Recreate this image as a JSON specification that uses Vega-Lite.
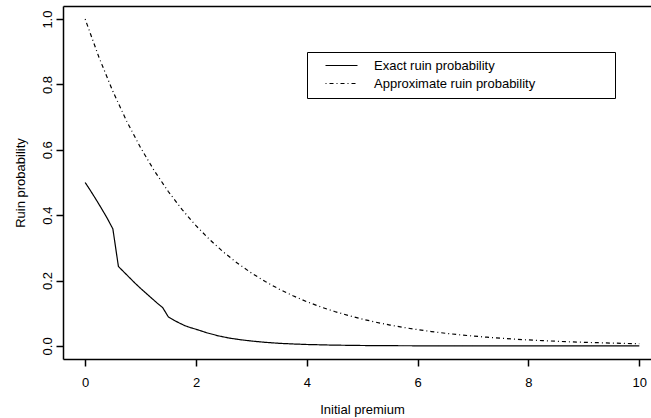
{
  "$schema": "https://vega.github.io/schema/vega-lite/v6.json",
  "width": 588,
  "height": 353,
  "autosize": {"type": "none"},
  "padding": {"left": 63, "top": 6, "right": 0, "bottom": 59},
  "background": "white",
  "config": {
    "font": "Liberation Sans",
    "view": {"stroke": null},
    "axis": {
      "grid": false,
      "domain": true,
      "domainColor": "#000000",
      "domainWidth": 1.5,
      "ticks": true,
      "tickColor": "#000000",
      "tickWidth": 1.5,
      "tickSize": 7,
      "labelColor": "black",
      "titleColor": "black",
      "labelFont": "Liberation Sans",
      "titleFont": "Liberation Sans",
      "labelFontSize": 13,
      "titleFontSize": 13,
      "titleFontWeight": "normal",
      "labelFlush": false,
      "labelOverlap": false
    }
  },
  "data": {
    "values": [
      {"u": 0, "p": 0.5, "s": "Exact ruin probability"},
      {"u": 0.1, "p": 0.474, "s": "Exact ruin probability"},
      {"u": 0.2, "p": 0.447, "s": "Exact ruin probability"},
      {"u": 0.3, "p": 0.419, "s": "Exact ruin probability"},
      {"u": 0.4, "p": 0.39, "s": "Exact ruin probability"},
      {"u": 0.5, "p": 0.358, "s": "Exact ruin probability"},
      {"u": 0.6, "p": 0.243, "s": "Exact ruin probability"},
      {"u": 0.7, "p": 0.226, "s": "Exact ruin probability"},
      {"u": 0.8, "p": 0.209, "s": "Exact ruin probability"},
      {"u": 0.9, "p": 0.192, "s": "Exact ruin probability"},
      {"u": 1.0, "p": 0.176, "s": "Exact ruin probability"},
      {"u": 1.1, "p": 0.161, "s": "Exact ruin probability"},
      {"u": 1.2, "p": 0.146, "s": "Exact ruin probability"},
      {"u": 1.3, "p": 0.131, "s": "Exact ruin probability"},
      {"u": 1.4, "p": 0.117, "s": "Exact ruin probability"},
      {"u": 1.5, "p": 0.089, "s": "Exact ruin probability"},
      {"u": 1.6, "p": 0.079, "s": "Exact ruin probability"},
      {"u": 1.7, "p": 0.07, "s": "Exact ruin probability"},
      {"u": 1.8, "p": 0.062, "s": "Exact ruin probability"},
      {"u": 1.9, "p": 0.056, "s": "Exact ruin probability"},
      {"u": 2.0, "p": 0.051, "s": "Exact ruin probability"},
      {"u": 2.2, "p": 0.04, "s": "Exact ruin probability"},
      {"u": 2.4, "p": 0.031, "s": "Exact ruin probability"},
      {"u": 2.6, "p": 0.024, "s": "Exact ruin probability"},
      {"u": 2.8, "p": 0.019, "s": "Exact ruin probability"},
      {"u": 3.0, "p": 0.015, "s": "Exact ruin probability"},
      {"u": 3.25, "p": 0.011, "s": "Exact ruin probability"},
      {"u": 3.5, "p": 0.008, "s": "Exact ruin probability"},
      {"u": 3.75, "p": 0.006, "s": "Exact ruin probability"},
      {"u": 4.0, "p": 0.0044, "s": "Exact ruin probability"},
      {"u": 4.5, "p": 0.0024, "s": "Exact ruin probability"},
      {"u": 5.0, "p": 0.0013, "s": "Exact ruin probability"},
      {"u": 5.5, "p": 0.0007, "s": "Exact ruin probability"},
      {"u": 6.0, "p": 0.0004, "s": "Exact ruin probability"},
      {"u": 7.0, "p": 0.00012, "s": "Exact ruin probability"},
      {"u": 8.0, "p": 0.00004, "s": "Exact ruin probability"},
      {"u": 9.0, "p": 0.00001, "s": "Exact ruin probability"},
      {"u": 10.0, "p": 0.000003, "s": "Exact ruin probability"},
      {"u": 0, "p": 1.0, "s": "Approximate ruin probability"},
      {"u": 0.25, "p": 0.8825, "s": "Approximate ruin probability"},
      {"u": 0.5, "p": 0.7788, "s": "Approximate ruin probability"},
      {"u": 0.75, "p": 0.6873, "s": "Approximate ruin probability"},
      {"u": 1.0, "p": 0.6065, "s": "Approximate ruin probability"},
      {"u": 1.25, "p": 0.5353, "s": "Approximate ruin probability"},
      {"u": 1.5, "p": 0.4724, "s": "Approximate ruin probability"},
      {"u": 1.75, "p": 0.4169, "s": "Approximate ruin probability"},
      {"u": 2.0, "p": 0.3679, "s": "Approximate ruin probability"},
      {"u": 2.25, "p": 0.3247, "s": "Approximate ruin probability"},
      {"u": 2.5, "p": 0.2865, "s": "Approximate ruin probability"},
      {"u": 2.75, "p": 0.2528, "s": "Approximate ruin probability"},
      {"u": 3.0, "p": 0.2231, "s": "Approximate ruin probability"},
      {"u": 3.25, "p": 0.1969, "s": "Approximate ruin probability"},
      {"u": 3.5, "p": 0.1738, "s": "Approximate ruin probability"},
      {"u": 3.75, "p": 0.1534, "s": "Approximate ruin probability"},
      {"u": 4.0, "p": 0.1353, "s": "Approximate ruin probability"},
      {"u": 4.25, "p": 0.1194, "s": "Approximate ruin probability"},
      {"u": 4.5, "p": 0.1054, "s": "Approximate ruin probability"},
      {"u": 4.75, "p": 0.093, "s": "Approximate ruin probability"},
      {"u": 5.0, "p": 0.0821, "s": "Approximate ruin probability"},
      {"u": 5.25, "p": 0.0724, "s": "Approximate ruin probability"},
      {"u": 5.5, "p": 0.0639, "s": "Approximate ruin probability"},
      {"u": 5.75, "p": 0.0564, "s": "Approximate ruin probability"},
      {"u": 6.0, "p": 0.0498, "s": "Approximate ruin probability"},
      {"u": 6.25, "p": 0.0439, "s": "Approximate ruin probability"},
      {"u": 6.5, "p": 0.0388, "s": "Approximate ruin probability"},
      {"u": 6.75, "p": 0.0342, "s": "Approximate ruin probability"},
      {"u": 7.0, "p": 0.0302, "s": "Approximate ruin probability"},
      {"u": 7.25, "p": 0.0267, "s": "Approximate ruin probability"},
      {"u": 7.5, "p": 0.0235, "s": "Approximate ruin probability"},
      {"u": 7.75, "p": 0.0208, "s": "Approximate ruin probability"},
      {"u": 8.0, "p": 0.0183, "s": "Approximate ruin probability"},
      {"u": 8.25, "p": 0.0162, "s": "Approximate ruin probability"},
      {"u": 8.5, "p": 0.0143, "s": "Approximate ruin probability"},
      {"u": 8.75, "p": 0.0126, "s": "Approximate ruin probability"},
      {"u": 9.0, "p": 0.0111, "s": "Approximate ruin probability"},
      {"u": 9.25, "p": 0.0098, "s": "Approximate ruin probability"},
      {"u": 9.5, "p": 0.0087, "s": "Approximate ruin probability"},
      {"u": 9.75, "p": 0.0076, "s": "Approximate ruin probability"},
      {"u": 10.0, "p": 0.0067, "s": "Approximate ruin probability"}
    ]
  },
  "encoding": {
    "y": {
      "field": "p",
      "type": "quantitative",
      "scale": {"domain": [-0.04, 1.04], "nice": false, "zero": false},
      "axis": {
        "values": [0, 0.2, 0.4, 0.6, 0.8, 1.0],
        "format": ".1f",
        "labelAngle": 270,
        "labelAlign": "center",
        "labelBaseline": "alphabetic",
        "labelPadding": 4.5,
        "title": "Ruin probability",
        "titleAngle": 270,
        "titleAlign": "center",
        "titleBaseline": "alphabetic",
        "titleX": -39,
        "titleY": 176.5
      }
    },
    "strokeDash": {
      "field": "s",
      "type": "nominal",
      "scale": {
        "domain": ["Exact ruin probability", "Approximate ruin probability"],
        "range": [[1, 0], [1, 3, 4, 3]]
      },
      "legend": {
        "title": null,
        "orient": "none",
        "direction": "vertical",
        "columns": 1,
        "legendX": 244,
        "legendY": 46,
        "strokeColor": "black",
        "padding": 7,
        "symbolType": "M-4,0H4M66,0",
        "symbolSize": 64,
        "symbolStrokeColor": "black",
        "symbolStrokeWidth": 1.2,
        "symbolFillColor": "transparent",
        "symbolOffset": 21,
        "labelOffset": 26,
        "labelAlign": "left",
        "labelFont": "Liberation Sans",
        "labelFontSize": 13,
        "labelColor": "black",
        "labelLimit": 0,
        "rowPadding": 4
      }
    }
  },
  "layer": [
    {
      "transform": [{"filter": "datum.s === 'Exact ruin probability'"}],
      "mark": {"type": "line", "color": "black", "strokeWidth": 1.2},
      "encoding": {
        "x": {
          "field": "u",
          "type": "quantitative",
          "scale": {"domain": [-0.4, 10.211], "nice": false, "zero": false},
          "axis": {
            "orient": "bottom",
            "values": [0, 2, 4, 6, 8, 10],
            "labelBaseline": "alphabetic",
            "labelAlign": "center",
            "labelPadding": 20,
            "title": "Initial premium",
            "titleBaseline": "alphabetic",
            "titleX": 299,
            "titleY": 54
          }
        }
      }
    },
    {
      "transform": [{"filter": "datum.s === 'Approximate ruin probability'"}],
      "mark": {"type": "line", "color": "black", "strokeWidth": 1.2},
      "encoding": {
        "x": {
          "field": "u",
          "type": "quantitative",
          "scale": {"domain": [-0.4, 10.211], "nice": false, "zero": false},
          "axis": {
            "orient": "top",
            "labels": false,
            "ticks": false,
            "title": null,
            "domain": true
          }
        }
      }
    }
  ],
  "resolve": {"axis": {"x": "independent"}}
}
